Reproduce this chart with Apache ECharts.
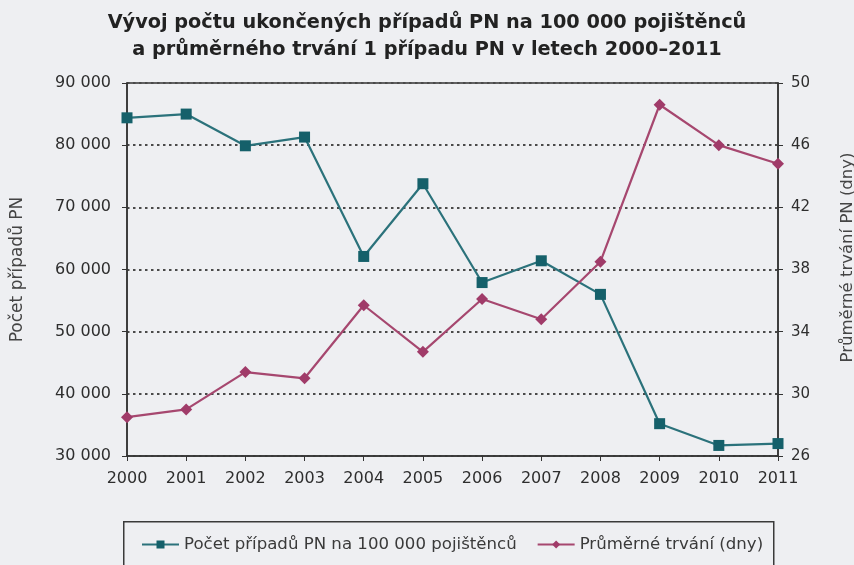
<!doctype html>
<html>
<head>
<meta charset="utf-8">
<title>Vývoj počtu případů PN</title>
<style>
  html, body { margin: 0; padding: 0; background: #eeeff2; }
  #main { width: 854px; height: 565px; }
</style>
</head>
<body>
<div id="main"></div>
<script src="https://cdn.jsdelivr.net/npm/echarts@6/dist/echarts.min.js"></script>
<script>
var years = ['2000', '2001', '2002', '2003', '2004', '2005', '2006', '2007', '2008', '2009', '2010', '2011'];
// případy PN na 100 000 pojištěnců (levá osa)
var pocetPripadu = [84400, 85000, 79900, 81300, 62100, 73800, 57900, 61400, 56000, 35200, 31700, 32000];
// průměrné trvání 1 případu v dnech (pravá osa)
var prumerneTrvani = [28.5, 29.0, 31.4, 31.0, 35.7, 32.7, 36.1, 34.8, 38.5, 48.6, 46.0, 44.8];

var teal = '#2b727b';
var plum = '#a6476f';
var ink = '#2e2e2e';
var font = 'DejaVu Sans';

var myChart = echarts.init(document.getElementById('main'));

function thousands(v) {
    return String(v).replace(/\B(?=(\d{3})+(?!\d))/g, ' ');
}

var option = {
    backgroundColor: '#eeeff2',
    animation: false,
    title: {
        text: 'Vývoj počtu ukončených případů PN na 100 000 pojištěnců\na průměrného trvání 1 případu PN v letech 2000–2011',
        left: 'center',
        top: 4,
        textStyle: {
            fontFamily: font,
            fontSize: 19.3,
            fontWeight: 'bold',
            color: '#222',
            lineHeight: 27
        }
    },
    grid: {
        left: 127,
        right: 76,
        top: 83,
        bottom: 109,
        outerBoundsMode: 'none',
        show: true,
        borderColor: '#333',
        borderWidth: 1.5,
        backgroundColor: 'transparent'
    },
    // rámeček legendy
    graphic: [{
        type: 'rect',
        left: 123,
        top: 521,
        shape: { width: 650, height: 60 },
        style: { fill: 'transparent', stroke: '#3a3a3a', lineWidth: 1.5 }
    }],
    legend: {
        left: 141,
        top: 536,
        padding: 0,
        itemWidth: 37,
        itemHeight: 10,
        itemGap: 20,
        textStyle: { fontFamily: font, fontSize: 16.6, color: '#3a3a3a' },
        data: ['Počet případů PN na 100 000 pojištěnců', 'Průměrné trvání (dny)']
    },
    xAxis: {
        type: 'category',
        data: years,
        boundaryGap: false,
        axisLine: { lineStyle: { color: '#333', width: 1.5 } },
        axisTick: { show: true, length: 5, lineStyle: { color: '#333' } },
        axisLabel: { fontFamily: font, fontSize: 16, color: ink, margin: 15 }
    },
    yAxis: [{
        type: 'value',
        min: 30000,
        max: 90000,
        interval: 10000,
        name: 'Počet případů PN',
        nameLocation: 'middle',
        nameGap: 101,
        nameTextStyle: { fontFamily: font, fontSize: 17, color: '#444' },
        axisLine: { show: true, lineStyle: { color: '#333', width: 1.5 } },
        axisTick: { show: true, length: 5, lineStyle: { color: '#333' } },
        axisLabel: { fontFamily: font, fontSize: 16, color: ink, margin: 16, formatter: thousands },
        splitLine: { show: true, lineStyle: { color: '#4a4a4a', type: [2.5, 3.5], width: 2 } }
    }, {
        type: 'value',
        min: 26,
        max: 50,
        interval: 4,
        position: 'right',
        name: 'Průměrné trvání PN (dny)',
        nameLocation: 'middle',
        nameGap: 61,
        nameTextStyle: { fontFamily: font, fontSize: 16.5, color: '#444', padding: [0, 0, 0, 24] },
        axisLine: { show: true, lineStyle: { color: '#333', width: 1.5 } },
        axisTick: { show: true, length: 5, lineStyle: { color: '#333' } },
        axisLabel: { fontFamily: font, fontSize: 15, color: ink, margin: 13 },
        splitLine: { show: false }
    }],
    series: [{
        name: 'Počet případů PN na 100 000 pojištěnců',
        type: 'line',
        yAxisIndex: 0,
        data: pocetPripadu,
        symbol: 'rect',
        symbolSize: 11,
        itemStyle: { color: '#15606a' },
        lineStyle: { color: teal, width: 2.2 }
    }, {
        name: 'Průměrné trvání (dny)',
        type: 'line',
        yAxisIndex: 1,
        data: prumerneTrvani,
        symbol: 'diamond',
        symbolSize: 12,
        itemStyle: { color: '#a03b69' },
        lineStyle: { color: plum, width: 2.2 }
    }]
};

myChart.setOption(option);
</script>
</body>
</html>
